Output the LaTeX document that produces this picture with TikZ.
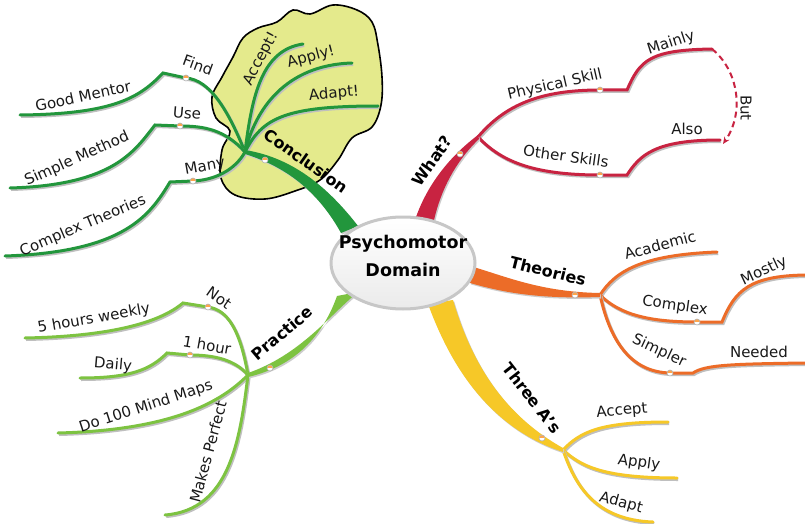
\documentclass[tikz,border=0pt]{standalone}
\usepackage{fontspec}
\setmainfont{DejaVu Sans}
\usetikzlibrary{arrows.meta}

\definecolor{concgreen}{RGB}{34,150,60}
\definecolor{whatred}{RGB}{200,35,65}
\definecolor{theoorange}{RGB}{236,108,40}
\definecolor{threeyellow}{RGB}{246,200,40}
\definecolor{pracgreen}{RGB}{125,195,65}
\definecolor{cloudfill}{RGB}{228,234,140}

\tikzset{
  twig/.style={line width=3pt, line cap=round,
    preaction={draw=black!25, line width=3pt, transform canvas={shift={(1.2pt,-1.5pt)}}}},
  trunk/.style={preaction={fill=black!20, transform canvas={shift={(1.2pt,-1.5pt)}}}},
  lbl/.style={font=\fontsize{15}{17}\selectfont, text=black!90, inner sep=0pt},
  mainlbl/.style={font=\bfseries\fontsize{16}{18}\selectfont, inner sep=0pt},
  knob/.style={circle, draw=black!30, fill=white, inner sep=0pt, minimum size=6pt, line width=0.6pt,
    path picture={\fill[orange!70] (path picture bounding box.north west) rectangle (path picture bounding box.east);}},
}

\begin{document}
\begin{tikzpicture}[x=1pt,y=-1pt]
\useasboundingbox[fill=white] (0,0) rectangle (805,524);

% the cloud behind the conclusion
\draw[line width=1.6pt, fill=cloudfill] plot[smooth cycle, tension=0.6] coordinates {
  (222,77) (233,57) (243,38) (258,28) (277,22) (293,10) (310,14) (333,5) (357,10) (372,22)
  (378,45) (382,77) (381,105) (372,127) (352,138) (338,160) (320,180) (295,191) (265,199)
  (235,195) (221,178) (222,150) (230,131) (216,118) (212,97)};

% hubs
\coordinate (dom) at (403,263);
\coordinate (conc) at (245,152);
\coordinate (what) at (478,137);
\coordinate (theo) at (600,295);
\coordinate (three) at (563,450);
\coordinate (prac) at (248,375);

% knobs and corners
\coordinate (conck) at (265,160);
\coordinate (whatk) at (460,154);
\coordinate (theok) at (575,295);
\coordinate (threek) at (542,438);
\coordinate (prack) at (270,368);
\coordinate (findk) at (186,78);   \coordinate (findc) at (163,73);
\coordinate (usek) at (180,126);   \coordinate (usec) at (155,125);
\coordinate (manyk) at (193,181);  \coordinate (manyc) at (170,182);
\coordinate (physk) at (600,90);   \coordinate (physc) at (627,90);
\coordinate (otherk) at (600,175); \coordinate (otherc) at (627,175);
\coordinate (compk) at (697,322);  \coordinate (compc) at (722,322);
\coordinate (simpk) at (670,373);  \coordinate (simpc) at (693,373);
\coordinate (notk) at (208,307);   \coordinate (notc) at (183,303);
\coordinate (hourk) at (190,355);  \coordinate (hourc) at (167,353);

% ends
\coordinate (mentore) at (20,115);
\coordinate (simplee) at (10,188);
\coordinate (theorye) at (5,256);
\coordinate (accepte) at (303,44);
\coordinate (applye) at (352,63);
\coordinate (adapte) at (378,106);
\coordinate (mainlye) at (712,49);
\coordinate (alsoe) at (720,140);
\coordinate (acade) at (717,252);
\coordinate (mostlye) at (805,275);
\coordinate (needede) at (805,363);
\coordinate (acce) at (668,422);
\coordinate (appe) at (677,478);
\coordinate (adae) at (653,522);
\coordinate (weeklye) at (25,338);
\coordinate (dailye) at (80,378);
\coordinate (mapse) at (58,433);
\coordinate (perfecte) at (165,515);

% conclusion twigs
\draw[twig, concgreen] (conc) .. controls (228,110) and (210,80) .. (findk) -- (findc)
  .. controls (140,97) and (115,114) .. (mentore);
\draw[twig, concgreen] (conc) .. controls (225,130) and (205,126) .. (usek) -- (usec)
  .. controls (135,150) and (115,185) .. (simplee);
\draw[twig, concgreen] (conc) .. controls (235,170) and (215,180) .. (manyk) -- (manyc)
  .. controls (150,215) and (125,252) .. (theorye);
\draw[twig, concgreen] (conc) .. controls (252,95) and (262,50) .. (accepte);
\draw[twig, concgreen] (conc) .. controls (255,110) and (285,65) .. (applye);
\draw[twig, concgreen] (conc) .. controls (262,118) and (285,106) .. (adapte);

% what twigs
\draw[twig, whatred] (what) .. controls (505,105) and (540,90) .. (physk) -- (physc)
  .. controls (640,60) and (650,50) .. (mainlye);
\draw[twig, whatred] (what) .. controls (500,160) and (530,175) .. (otherk) -- (otherc)
  .. controls (640,155) and (655,140) .. (alsoe);
\draw[whatred, line width=2pt, dash pattern=on 6pt off 4pt, -{Stealth[length=7pt, width=6pt]}]
  (mainlye) .. controls (738,70) and (745,112) .. ([xshift=3pt,yshift=-4pt]alsoe);

% theories twigs
\draw[twig, theoorange] (theo) .. controls (615,272) and (640,255) .. (acade);
\draw[twig, theoorange] (theo) .. controls (620,315) and (650,322) .. (compk) -- (compc)
  .. controls (735,290) and (750,276) .. (mostlye);
\draw[twig, theoorange] (theo) .. controls (610,340) and (630,372) .. (simpk) -- (simpc)
  .. controls (705,365) and (730,364) .. (needede);

% three a's twigs
\draw[twig, threeyellow] (three) .. controls (580,432) and (600,422) .. (acce);
\draw[twig, threeyellow] (three) .. controls (580,465) and (600,478) .. (appe);
\draw[twig, threeyellow] (three) .. controls (575,485) and (595,520) .. (adae);

% practice twigs
\draw[twig, pracgreen] (prac) .. controls (240,330) and (228,310) .. (notk) -- (notc)
  .. controls (165,318) and (125,336) .. (weeklye);
\draw[twig, pracgreen] (prac) .. controls (235,360) and (215,355) .. (hourk) -- (hourc)
  .. controls (150,370) and (130,378) .. (dailye);
\draw[twig, pracgreen] (prac) .. controls (225,398) and (180,430) .. (mapse);
\draw[twig, pracgreen] (prac) .. controls (240,440) and (230,510) .. (perfecte);

% trunks
\fill[trunk, concgreen] (245,150) .. controls (295,158) and (330,190) .. (358,226)
  -- (341,233) .. controls (320,195) and (290,168) .. (245,154) -- cycle;
\fill[trunk, whatred] (415,220) .. controls (425,190) and (445,160) .. (478,135)
  -- (479,139) .. controls (455,162) and (441,190) .. (434,220) -- cycle;
\fill[trunk, theoorange] (470,266) .. controls (505,276) and (540,292) .. (600,293)
  -- (600,297) .. controls (540,299) and (505,293) .. (470,283) -- cycle;
\fill[trunk, threeyellow] (428,304) .. controls (445,350) and (480,425) .. (563,452)
  -- (563,448) .. controls (495,410) and (468,350) .. (453,300) -- cycle;
\fill[trunk, pracgreen] (358,292) .. controls (330,315) and (300,355) .. (248,373)
  -- (248,377) .. controls (300,365) and (325,330) .. (337,296) -- cycle;

% centre
\draw[draw=black!22, line width=3pt, top color=white, bottom color=black!8]
  (dom) ellipse [x radius=72, y radius=46];
\node[align=center, inner sep=0pt, font=\bfseries\fontsize{17.5}{28}\selectfont] (domain)
  at ([yshift=7pt]dom) {Psychomotor\\Domain};

% knobs
\node[knob] (conck-dot) at (conck) {};
\node[knob] (whatk-dot) at (whatk) {};
\node[knob] (theok-dot) at (theok) {};
\node[knob] (threek-dot) at (threek) {};
\node[knob] (prack-dot) at (prack) {};
\node[knob] (findk-dot) at (findk) {};
\node[knob] (usek-dot) at (usek) {};
\node[knob] (manyk-dot) at (manyk) {};
\node[knob] (physk-dot) at (physk) {};
\node[knob] (otherk-dot) at (otherk) {};
\node[knob] (compk-dot) at (compk) {};
\node[knob] (simpk-dot) at (simpk) {};
\node[knob] (notk-dot) at (notk) {};
\node[knob] (hourk-dot) at (hourk) {};

% labels
\node[mainlbl, rotate=-35] (conclbl) at (306,161) {Conclusion};
\node[lbl, rotate=-20] (findlbl) at (198,65) {Find};
\node[lbl, rotate=12] (mentorlbl) at (83,96) {Good Mentor};
\node[lbl, rotate=-5] (uselbl) at (187,113) {Use};
\node[lbl, rotate=24] (simplelbl) at (77,159) {Simple Method};
\node[lbl, rotate=10] (manylbl) at (205,167) {Many};
\node[lbl, rotate=23] (theorylbl) at (83,226) {Complex Theories};
\node[lbl, rotate=62] (acceptlbl) at (261,59) {Accept!};
\node[lbl, rotate=15] (applylbl) at (311,57) {Apply!};
\node[lbl, rotate=5] (adaptlbl) at (334,94) {Adapt!};

\node[mainlbl, rotate=55] (whatlbl) at (432,161) {What?};
\node[lbl, rotate=13] (physlbl) at (555,85) {Physical Skill};
\node[lbl, rotate=18] (mainlylbl) at (671,43) {Mainly};
\node[lbl, rotate=-8] (otherlbl) at (566,156) {Other Skills};
\node[lbl] (alsolbl) at (687,129) {Also};
\node[lbl, rotate=-90] (butlbl) at (746,108) {But};

\node[mainlbl, rotate=-14] (theolbl) at (548,271) {Theories};
\node[lbl, rotate=15] (acadlbl) at (660,245) {Academic};
\node[lbl, rotate=-8] (complbl) at (675,306) {Complex};
\node[lbl, rotate=25] (mostlylbl) at (764,271) {Mostly};
\node[lbl, rotate=-25] (simplbl) at (659,351) {Simpler};
\node[lbl] (neededlbl) at (759,352) {Needed};

\node[mainlbl, rotate=-52] (threelbl) at (532,398) {Three A's};
\node[lbl, rotate=5] (acclbl) at (622,411) {Accept};
\node[lbl, rotate=-8] (applbl) at (639,463) {Apply};
\node[lbl, rotate=-15] (adalbl) at (621,503) {Adapt};

\node[mainlbl, rotate=40] (praclbl) at (282,333) {Practice};
\node[lbl, rotate=-35] (notlbl) at (219,298) {Not};
\node[lbl, rotate=10] (weeklylbl) at (94,319) {5 hours weekly};
\node[lbl, rotate=-10] (hourlbl) at (207,345) {1 hour};
\node[lbl, rotate=-5] (dailylbl) at (113,365) {Daily};
\node[lbl, rotate=18] (mapslbl) at (146,407) {Do 100 Mind Maps};
\node[lbl, rotate=75] (perfectlbl) at (208,452) {Makes Perfect};
\end{tikzpicture}
\end{document}
